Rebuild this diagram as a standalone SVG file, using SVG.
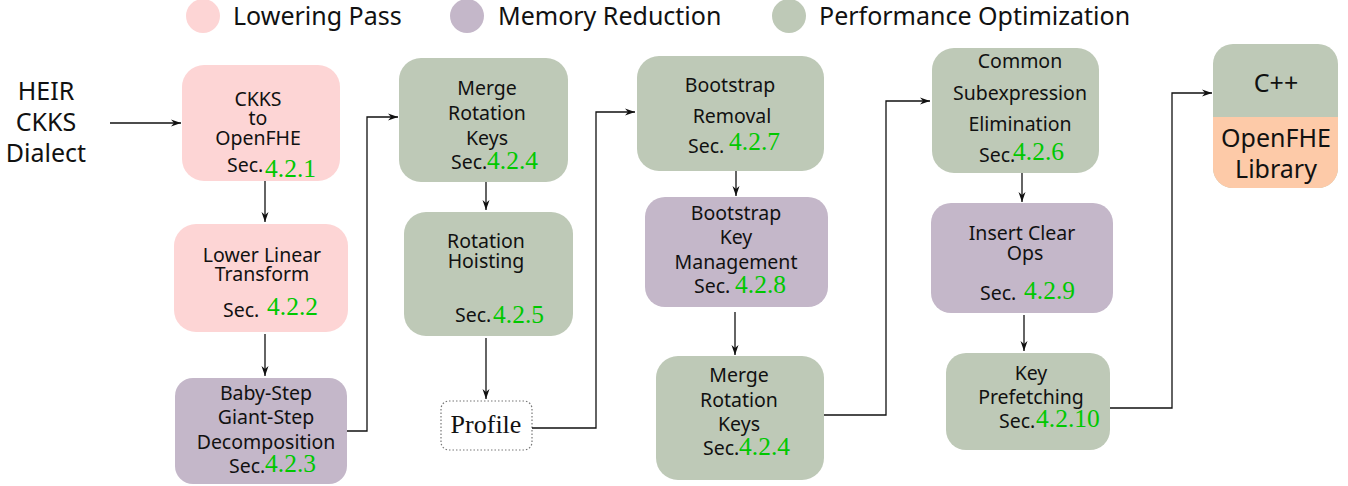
<svg xmlns="http://www.w3.org/2000/svg" width="1348" height="486" viewBox="0 0 1348 486">
<defs>
<marker id="arr" viewBox="0 0 10 8" refX="10" refY="4" markerWidth="10" markerHeight="8" markerUnits="userSpaceOnUse" orient="auto">
<path d="M0,0.5 L10,4 L0,7.5 L3,4 Z" fill="#111"/>
</marker>
<style>
.t{font-family:"Noto Sans","Open Sans",sans-serif;font-size:19.5px;fill:#111}
.m{text-anchor:middle}
.lg{font-family:"Noto Sans","Open Sans",sans-serif;font-size:25px;fill:#111}
.n{font-family:"Liberation Serif","Times New Roman",serif;font-size:25.5px;fill:#00c800}
.pink{fill:#fdd5d5}
.purp{fill:#c4b7c9}
.grn{fill:#bec9b7}
.org{fill:#fdcaa8}
.c{fill:none;stroke:#111;stroke-width:1.3;marker-end:url(#arr)}
</style>
</defs>
<rect width="1348" height="486" fill="#fff"/>
<g id="legend">
<circle cx="203" cy="16" r="17" class="pink"/>
<text x="233" y="25" class="lg" font-size="24.5">Lowering Pass</text>
<circle cx="467" cy="16" r="17" class="purp"/>
<text x="498" y="25" class="lg" font-size="24.5">Memory Reduction</text>
<circle cx="789" cy="16" r="17" class="grn"/>
<text x="819" y="25" class="lg" font-size="24.5">Performance Optimization</text>
</g>
<g id="input">
<text x="46" y="100" class="lg m">HEIR</text>
<text x="46" y="131" class="lg m">CKKS</text>
<text x="46" y="162" class="lg m">Dialect</text>
</g>
<g id="n1">
<rect x="182" y="65" width="158" height="116" rx="22" class="pink"/>
<text x="258" y="106" class="t m">CKKS</text>
<text x="258" y="125" class="t m">to</text>
<text x="258" y="145" class="t m">OpenFHE</text>
<text x="227" y="172" class="t">Sec.</text>
<text x="265" y="177" class="n">4.2.1</text>
</g>
<g id="n2">
<rect x="174" y="224" width="174" height="108" rx="22" class="pink"/>
<text x="262" y="262" class="t m">Lower Linear</text>
<text x="262" y="281" class="t m">Transform</text>
<text x="223" y="317" class="t">Sec.</text>
<text x="267" y="315" class="n">4.2.2</text>
</g>
<g id="n3">
<rect x="175" y="378" width="172" height="106" rx="18" class="purp"/>
<text x="266" y="400" class="t m">Baby-Step</text>
<text x="266" y="424" class="t m">Giant-Step</text>
<text x="266" y="449" class="t m">Decomposition</text>
<text x="229" y="473" class="t">Sec.</text>
<text x="265" y="472" class="n">4.2.3</text>
</g>
<g id="n4">
<rect x="399" y="58" width="169" height="124" rx="22" class="grn"/>
<text x="487" y="95" class="t m">Merge</text>
<text x="487" y="120" class="t m">Rotation</text>
<text x="487" y="145" class="t m">Keys</text>
<text x="451" y="169" class="t">Sec.</text>
<text x="487" y="169" class="n">4.2.4</text>
</g>
<g id="n5">
<rect x="404" y="212" width="169" height="124" rx="22" class="grn"/>
<text x="486" y="248" class="t m">Rotation</text>
<text x="486" y="268" class="t m">Hoisting</text>
<text x="455" y="322" class="t">Sec.</text>
<text x="493" y="323" class="n">4.2.5</text>
</g>
<g id="n6">
<rect x="441" y="401" width="91" height="49" rx="8" fill="#fff" stroke="#777" stroke-width="1.2" stroke-dasharray="1.5,2"/>
<text x="486" y="433" font-family="Liberation Serif,Times New Roman,serif" font-size="26" fill="#111" text-anchor="middle">Profile</text>
</g>
<g id="n7">
<rect x="637" y="56" width="187" height="115" rx="22" class="grn"/>
<text x="730" y="92" class="t m">Bootstrap</text>
<text x="732" y="123" class="t m">Removal</text>
<text x="688" y="153" class="t">Sec.</text>
<text x="729" y="150" class="n">4.2.7</text>
</g>
<g id="n8">
<rect x="645" y="197" width="183" height="110" rx="20" class="purp"/>
<text x="736" y="220" class="t m">Bootstrap</text>
<text x="736" y="244" class="t m">Key</text>
<text x="736" y="269" class="t m">Management</text>
<text x="694" y="293" class="t">Sec.</text>
<text x="735" y="293" class="n">4.2.8</text>
</g>
<g id="n9">
<rect x="656" y="356" width="168" height="124" rx="22" class="grn"/>
<text x="739" y="382" class="t m">Merge</text>
<text x="739" y="407" class="t m">Rotation</text>
<text x="739" y="431" class="t m">Keys</text>
<text x="703" y="455" class="t">Sec.</text>
<text x="739" y="455" class="n">4.2.4</text>
</g>
<g id="n10">
<rect x="932" y="48" width="167" height="125" rx="22" class="grn"/>
<text x="1020" y="68" class="t m">Common</text>
<text x="1020" y="100" class="t m">Subexpression</text>
<text x="1020" y="131" class="t m">Elimination</text>
<text x="979" y="162" class="t">Sec.</text>
<text x="1013" y="160" class="n">4.2.6</text>
</g>
<g id="n11">
<rect x="931" y="203" width="182" height="110" rx="20" class="purp"/>
<text x="1022" y="240" class="t m">Insert Clear</text>
<text x="1025" y="260" class="t m">Ops</text>
<text x="980" y="300" class="t">Sec.</text>
<text x="1024" y="299" class="n">4.2.9</text>
</g>
<g id="n12">
<rect x="946" y="353" width="164" height="97" rx="20" class="grn"/>
<text x="1031" y="380" class="t m">Key</text>
<text x="1031" y="404" class="t m">Prefetching</text>
<text x="999" y="428" class="t">Sec.</text>
<text x="1036" y="427" class="n">4.2.10</text>
</g>
<g id="n13">
<rect x="1213" y="44" width="125" height="144" rx="20" class="grn"/>
<path d="M1213,117 H1338 V168 A20,20 0 0 1 1318,188 H1233 A20,20 0 0 1 1213,168 Z" class="org"/>
<path d="M1213,137 A20,20 0 0 1 1233,117 H1318 A20,20 0 0 1 1338,137 Z" class="org"/>
<text x="1276" y="92" class="lg m" font-size="23">C++</text>
<text x="1276" y="147" class="lg m">OpenFHE</text>
<text x="1276" y="178" class="lg m">Library</text>
</g>
<g id="connectors">
<path d="M110,123 H181" class="c"/>
<path d="M265,181 V222" class="c"/>
<path d="M265,334 V376" class="c"/>
<path d="M347,431 H367 V117 H398" class="c"/>
<path d="M486,182 V210" class="c"/>
<path d="M486,338 V399" class="c"/>
<path d="M532,428 H596 V112 H635" class="c"/>
<path d="M736,171 V196" class="c"/>
<path d="M735,312 V355" class="c"/>
<path d="M824,415 H886 V101 H930" class="c"/>
<path d="M1022,173 V202" class="c"/>
<path d="M1024,315 V351" class="c"/>
<path d="M1110,408 H1172 V93 H1212" class="c"/>
</g>
</svg>
